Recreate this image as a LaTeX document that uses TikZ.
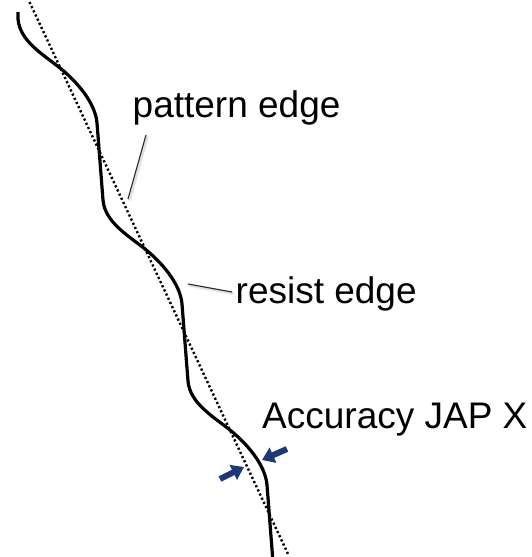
\documentclass[tikz,border=0pt]{standalone}
\usepackage{fontspec}
\setmainfont{Liberation Sans}
\usetikzlibrary{arrows.meta}
\definecolor{arrownavy}{RGB}{31,56,118}
\begin{document}
\begin{tikzpicture}[x=1pt,y=-1pt,
  resistline/.style={line width=3.2pt, black},
  patternline/.style={line width=2.4pt, black, dash pattern=on 2.2pt off 2.4pt},
  leader/.style={line width=1.1pt, black!85},
  leadershadow/.style={line width=2.6pt, black!12},
  label/.style={inner sep=0pt, anchor=base west, font=\fontsize{37}{44}\selectfont},
  accarrow/.style={arrownavy, line width=6pt, -{Triangle[width=16pt,length=12pt]}}]
\useasboundingbox (0,0) rectangle (531,557);

% straight pattern edge (dotted)
\coordinate (pTop) at (29.5,2);
\coordinate (pBot) at (288,554);
\draw[patternline] (pTop) -- (pBot);

% wavy resist edge
\coordinate (rTop) at (18,12);
\coordinate (rBot) at (272.6,557);
\draw[resistline] (rTop) -- (18,19)
  .. controls (19.7,41) and (43,54.4) .. (60,68)
  .. controls (77,81.6) and (95.4,103) .. (97,123)
  -- (103,200)
  .. controls (104.7,222) and (128,235.4) .. (145,249)
  .. controls (162,262.6) and (180.4,284) .. (182,304)
  -- (188,381)
  .. controls (189.7,403) and (213,416.4) .. (230,430)
  .. controls (247,443.6) and (265.4,465) .. (267,485)
  -- (rBot);

% labels
\node[label] (patternLbl) at (132.5,117) {pattern edge};
\node[label] (resistLbl) at (235.5,303) {resist edge};
\node[label] (accLbl) at (262,428) {Accuracy JAP X};

% leader lines with a soft shadow
\coordinate (pl1) at (146,135);
\coordinate (pl2) at (128,199);
\coordinate (rl1) at (188,284);
\coordinate (rl2) at (232,292);
\draw[leadershadow] ([shift={(1.5,1.5)}]pl1) -- ([shift={(1.5,1.5)}]pl2);
\draw[leadershadow] ([shift={(1.5,1.5)}]rl1) -- ([shift={(1.5,1.5)}]rl2);
\draw[leader] (pl1) -- (pl2);
\draw[leader] (rl1) -- (rl2);

% accuracy arrows
\coordinate (aL1) at (220,479);
\coordinate (aL2) at (244,467);
\coordinate (aR1) at (287,449);
\coordinate (aR2) at (262,460);
\draw[accarrow] (aL1) -- (aL2);
\draw[accarrow] (aR1) -- (aR2);
\end{tikzpicture}
\end{document}
